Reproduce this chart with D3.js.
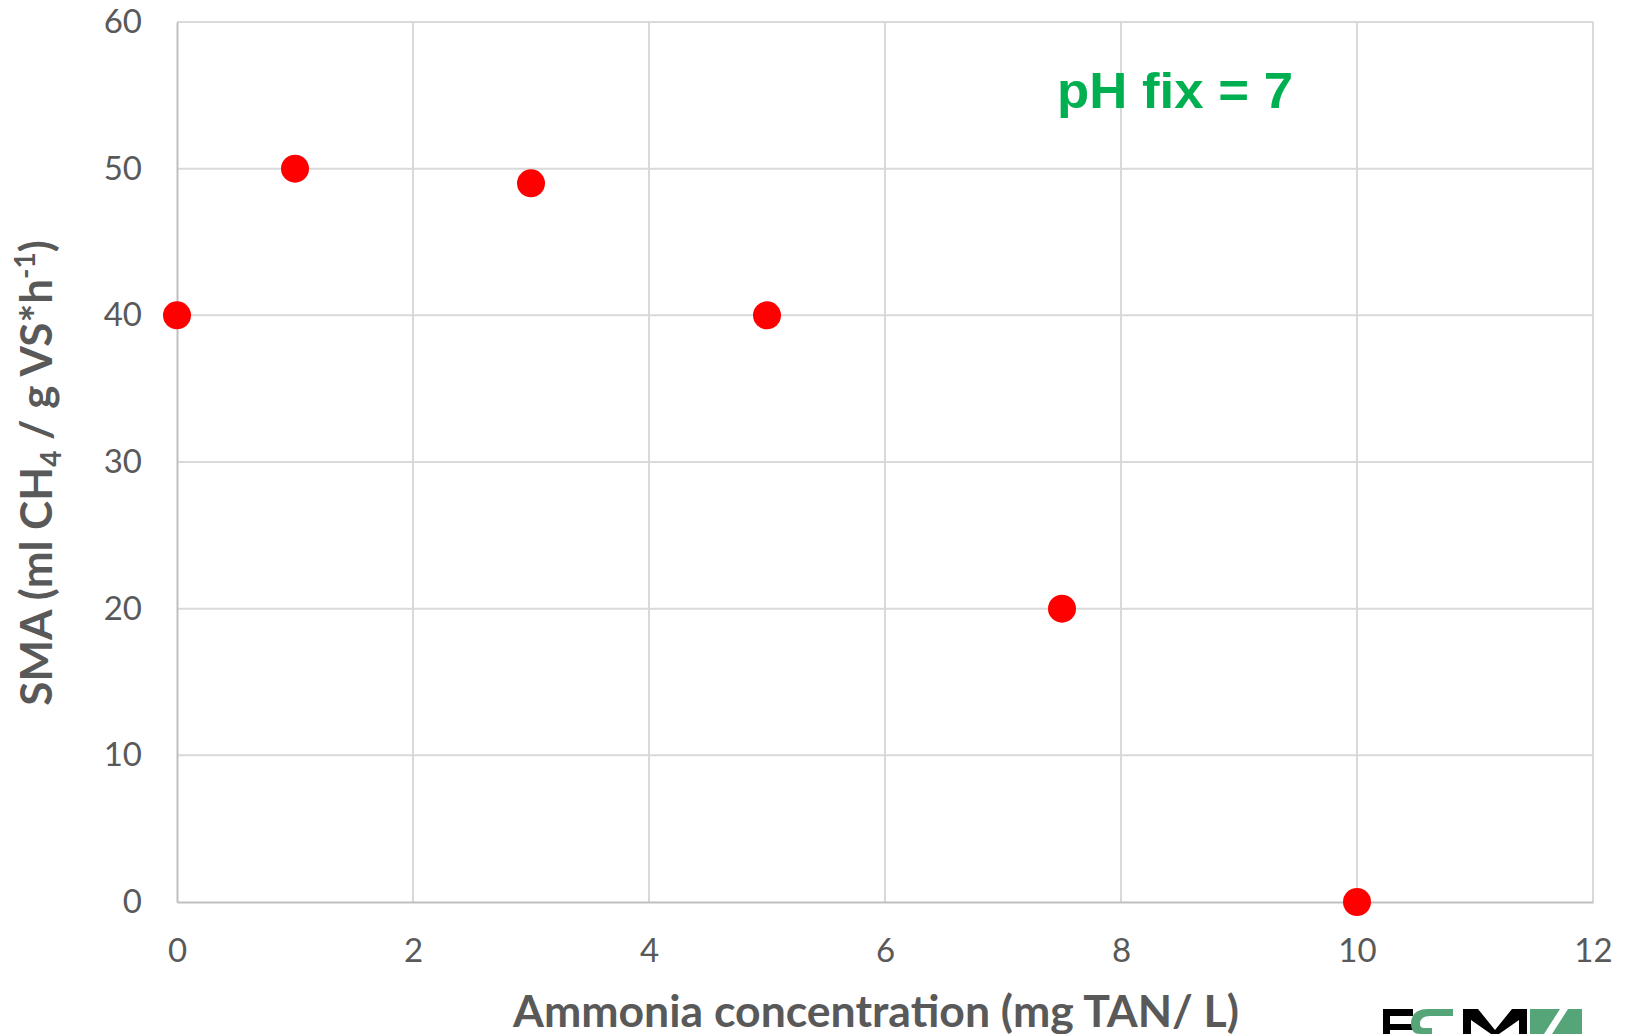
<!DOCTYPE html>
<html><head><meta charset="utf-8">
<script src="https://cdn.jsdelivr.net/npm/d3@7"></script>
<style>
html,body{margin:0;padding:0;background:#fff;overflow:hidden}
svg{display:block}
</style></head>
<body>
<svg id="chart" width="1628" height="1034"></svg>
<script>
const ammonia = [0, 1, 3, 5, 7.5, 10];
const sma = [40, 50, 49, 40, 20, 0];
const xTicks = [0, 2, 4, 6, 8, 10, 12];
const yTicks = [0, 10, 20, 30, 40, 50, 60];
const annotation = "pH fix = 7";
const xTitle = "Ammonia concentration (mg TAN/ L)";

(function () {
const svg = d3.select("#chart");
const font = "Lato, 'Open Sans', sans-serif";
const pL = 177, pR = 1593, pT = 22, pB = 902;
const x = d3.scaleLinear().domain([0, 12]).range([pL, pR]);
const y = d3.scaleLinear().domain([0, 60]).range([pB, pT]);

// gridlines
svg.append("g").selectAll("line").data(xTicks.filter(d => d > 0)).join("line")
  .attr("x1", d => x(d)).attr("x2", d => x(d)).attr("y1", y(60)).attr("y2", y(0))
  .attr("stroke", "#d9d9d9").attr("stroke-width", 2);
svg.append("g").selectAll("line").data(yTicks.filter(d => d > 0)).join("line")
  .attr("x1", x(0)).attr("x2", x(12)).attr("y1", d => y(d)).attr("y2", d => y(d))
  .attr("stroke", "#d9d9d9").attr("stroke-width", 2);

// axes
const xAxis = svg.append("g").attr("transform", `translate(0,${pB})`)
  .call(d3.axisBottom(x).tickValues(xTicks).tickSize(0).tickPadding(37).tickFormat(d3.format("d")));
const yAxis = svg.append("g").attr("transform", `translate(${pL},0)`)
  .call(d3.axisLeft(y).tickValues(yTicks).tickSize(0).tickPadding(35).tickFormat(d3.format("d")));
[xAxis, yAxis].forEach(g => {
  g.select(".domain").attr("stroke", "#bfbfbf").attr("stroke-width", 2);
  g.selectAll("text").attr("font-family", font).attr("font-size", 33).attr("fill", "#595959");
});

// points
svg.append("g").selectAll("circle").data(ammonia.map((d, i) => [d, sma[i]])).join("circle")
  .attr("cx", d => x(d[0])).attr("cy", d => y(d[1])).attr("r", 14).attr("fill", "#ff0000");

// annotation
svg.append("text").attr("x", 1057).attr("y", 108)
  .attr("font-family", "'Liberation Sans', Arial, sans-serif").attr("font-weight", "bold")
  .attr("font-size", 50).attr("fill", "#00b050")
  .attr("textLength", 236).attr("lengthAdjust", "spacingAndGlyphs").text(annotation);

// x title
svg.append("text").attr("x", 876).attr("y", 1027).attr("text-anchor", "middle")
  .attr("font-family", font).attr("font-weight", "bold").attr("font-size", 43).attr("fill", "#595959")
  .attr("textLength", 726).attr("lengthAdjust", "spacingAndGlyphs").text(xTitle);

// y title
const yt = svg.append("text").attr("transform", "translate(52,473) rotate(-90)")
  .attr("text-anchor", "middle").attr("font-family", font).attr("font-weight", "bold")
  .attr("font-size", 44).attr("fill", "#595959");
yt.append("tspan").text("SMA (ml CH");
yt.append("tspan").attr("font-size", 28).attr("dy", 9).text("4");
yt.append("tspan").attr("dy", -9).text(" / g VS*h");
yt.append("tspan").attr("font-size", 28).attr("dy", -17).text("-1");
yt.append("tspan").attr("dy", 17).text(")");

// logo (partially visible at bottom edge)
const logo = svg.append("g");
logo.append("rect").attr("x", 1383).attr("y", 1009).attr("width", 30).attr("height", 7).attr("fill", "#000");
logo.append("rect").attr("x", 1383).attr("y", 1009).attr("width", 7).attr("height", 25).attr("fill", "#000");
logo.append("rect").attr("x", 1390).attr("y", 1024).attr("width", 24).attr("height", 6).attr("fill", "#000");
logo.append("path").attr("d", "M1453,1016 L1453,1009 L1428,1009 Q1411,1009 1411,1024 Q1411,1034 1420,1034 L1432,1034 L1432,1028 L1424,1028 Q1420,1028 1420,1024 Q1420,1016 1430,1016 Z").attr("fill", "#55a578");
logo.append("path").attr("d", "M1463,1034 L1463,1009 L1478,1009 L1495,1030 L1512,1009 L1527,1009 L1527,1034 L1519,1034 L1519,1020 L1499,1034 L1491,1034 L1471,1020 L1471,1034 Z").attr("fill", "#000");
logo.append("rect").attr("x", 1530).attr("y", 1009).attr("width", 52).attr("height", 25).attr("fill", "#55a578");
logo.append("path").attr("d", "M1560,1009 L1568,1009 L1552,1034 L1544,1034 Z").attr("fill", "#fff");
})();
</script>
</body></html>
